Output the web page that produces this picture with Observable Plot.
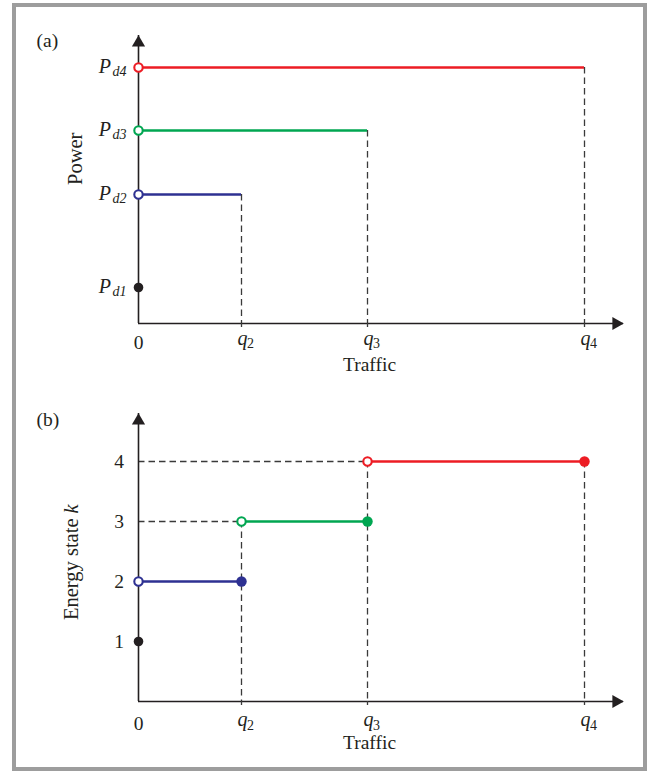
<!DOCTYPE html>
<html>
<head>
<meta charset="utf-8">
<script src="https://cdn.jsdelivr.net/npm/d3@7"></script>
<script src="https://cdn.jsdelivr.net/npm/@observablehq/plot@0.6"></script>
<style>
html,body{margin:0;padding:0;background:#fff;overflow:hidden;}
#frame{position:absolute;left:12px;top:3px;width:627px;height:760px;border:4px solid #9d9d9d;}
#panelA{position:absolute;left:0;top:0;}
#panelB{position:absolute;left:0;top:385px;}
</style>
</head>
<body>
<div id="frame"></div>
<div id="panelA"></div>
<div id="panelB"></div>
<script>
// ---------- data ----------
const pdSubscripts = ["d1", "d2", "d3", "d4"];      // P_d1 .. P_d4
const pdValues = [36, 129, 193, 256];                // power level of each state
const qSubscripts = ["2", "3", "4"];                 // q_2 .. q_4
const qValues = [103, 229, 446];                     // traffic thresholds
const states = [1, 2, 3, 4];                         // energy state k
const stateColors = ["#231f20", "#2e3192", "#00a651", "#ed1c24"];
const trafficMax = 485;
const powerMax = 288;
const stateMax = 4.8;

// ---------- styling ----------
const font = "'Liberation Serif', 'Times New Roman', serif";
const ink = "#231f20";
const dashInk = "#3a3a3a";
const dashPattern = "6.5,4";

// ---------- derived tables ----------
const rows = states.map((k, i) => ({k, p: pdValues[i], sub: pdSubscripts[i], color: stateColors[i],
  qEnd: i ? qValues[i - 1] : 0}));
const segA = rows.slice(1);
const qRows = qValues.map((q, i) => ({q, sub: qSubscripts[i],
  top: Math.min(states[i + 1] + 1, states[states.length - 1])}));
const segB = states.slice(1).map((k, j) => ({k, color: stateColors[j + 1],
  q0: j ? qValues[j - 1] : 0, q1: qValues[j]}));

function axesMarks(yMax) {
  return [
    Plot.ruleX([0], {y1: 0, y2: yMax, stroke: ink, strokeWidth: 1.6}),
    Plot.ruleY([0], {x1: 0, x2: trafficMax, stroke: ink, strokeWidth: 1.6}),
    Plot.dot([{x: 0, y: yMax}], {x: "x", y: "y", symbol: "triangle", r: 4.9, fill: ink, dy: 7.3}),
    Plot.dot([{x: trafficMax, y: 0}], {x: "x", y: "y", symbol: "triangle", r: 4.9, fill: ink, rotate: 90, dx: -7.3})
  ];
}
function qLabelMarks(dq, dsub, dzero) {
  return [
    Plot.text([0], {x: 0, y: 0, text: () => "0", fontSize: 19.5, dy: dzero, fill: ink}),
    Plot.text(qRows, {x: "q", y: 0, text: () => "q", fontStyle: "italic", fontSize: 20, dx: 1, dy: dq, fill: ink}),
    Plot.text(qRows, {x: "q", y: 0, text: "sub", fontSize: 14, textAnchor: "start", dx: 5.5, dy: dsub, fill: ink}),
    Plot.ruleX(qRows, {x: "q", y1: 0, y2: 0, insetBottom: -4, stroke: dashInk, strokeWidth: 1.3}),
    Plot.text(["Traffic"], {frameAnchor: "bottom", text: d => d, fontSize: 19.5, dx: -11.5, dy: 47.8, fill: ink})
  ];
}

// ---------- panel (a) ----------
const plotA = Plot.plot({
  width: 657, height: 385,
  marginLeft: 138, marginRight: 34, marginTop: 35, marginBottom: 62,
  x: {domain: [0, trafficMax], axis: null},
  y: {domain: [0, powerMax], axis: null},
  color: {type: "identity"},
  style: {background: "transparent", fontFamily: font, overflow: "visible"},
  marks: [
    Plot.ruleX(segA, {x: "qEnd", y1: "p", y2: 0, stroke: dashInk, strokeWidth: 1.3, strokeDasharray: dashPattern}),
    Plot.ruleY(segA, {y: "p", x1: 0, x2: "qEnd", stroke: "color", strokeWidth: 2.4}),
    ...axesMarks(powerMax),
    Plot.dot(rows.slice(0, 1), {x: 0, y: "p", r: 4.8, fill: "color"}),
    Plot.dot(segA, {x: 0, y: "p", r: 4.2, stroke: "color", strokeWidth: 2.1, fill: "white"}),
    Plot.text(rows, {x: 0, y: "p", text: () => "P", fontStyle: "italic", fontSize: 20, textAnchor: "end", dx: -27.5, dy: -1, fill: ink}),
    Plot.text(rows, {x: 0, y: "p", text: "sub", fontStyle: "italic", fontSize: 14, textAnchor: "end", dx: -12, dy: 3.8, fill: ink}),
    ...qLabelMarks(15, 20.5, 19),
    Plot.text(["Power"], {frameAnchor: "left", text: d => d, rotate: -90, fontSize: 20.5, dx: -62.6, dy: 5.5, fill: ink}),
    Plot.text(["(a)"], {frameAnchor: "top-left", text: d => d, textAnchor: "start", fontSize: 19.5, dx: -102, dy: -2.7, fill: ink})
  ]
});
document.getElementById("panelA").append(plotA);

// ---------- panel (b) ----------
const plotB = Plot.plot({
  width: 657, height: 386,
  marginLeft: 138, marginRight: 34, marginTop: 28, marginBottom: 70,
  x: {domain: [0, trafficMax], axis: null},
  y: {domain: [0, stateMax], axis: null},
  color: {type: "identity"},
  style: {background: "transparent", fontFamily: font, overflow: "visible"},
  marks: [
    Plot.ruleY(segB.slice(1), {y: "k", x1: 0, x2: "q0", stroke: dashInk, strokeWidth: 1.3, strokeDasharray: dashPattern}),
    Plot.ruleX(qRows, {x: "q", y1: "top", y2: 0, stroke: dashInk, strokeWidth: 1.3, strokeDasharray: dashPattern}),
    Plot.ruleY(segB, {y: "k", x1: "q0", x2: "q1", stroke: "color", strokeWidth: 2.4}),
    ...axesMarks(stateMax),
    Plot.dot(rows.slice(0, 1), {x: 0, y: "k", r: 4.8, fill: "color"}),
    Plot.dot(segB, {x: "q1", y: "k", r: 5.2, fill: "color"}),
    Plot.dot(segB, {x: "q0", y: "k", r: 4.2, stroke: "color", strokeWidth: 2.1, fill: "white"}),
    Plot.text(states, {x: 0, y: d => d, text: d => String(d), textAnchor: "end", fontSize: 19.5, dx: -14.5, fill: ink}),
    ...qLabelMarks(18, 24, 22),
    Plot.text(["Energy state"], {frameAnchor: "left", text: d => d, rotate: -90, textAnchor: "end", fontSize: 20.5, dx: -66.7, dy: -39, fill: ink}),
    Plot.text(["k"], {frameAnchor: "left", text: d => d, rotate: -90, textAnchor: "start", fontStyle: "italic", fontSize: 20.5, dx: -66.7, dy: -44, fill: ink}),
    Plot.text(["(b)"], {frameAnchor: "top-left", text: d => d, textAnchor: "start", fontSize: 19.5, dx: -102, dy: -1.2, fill: ink})
  ]
});
document.getElementById("panelB").append(plotB);
</script>
</body>
</html>
